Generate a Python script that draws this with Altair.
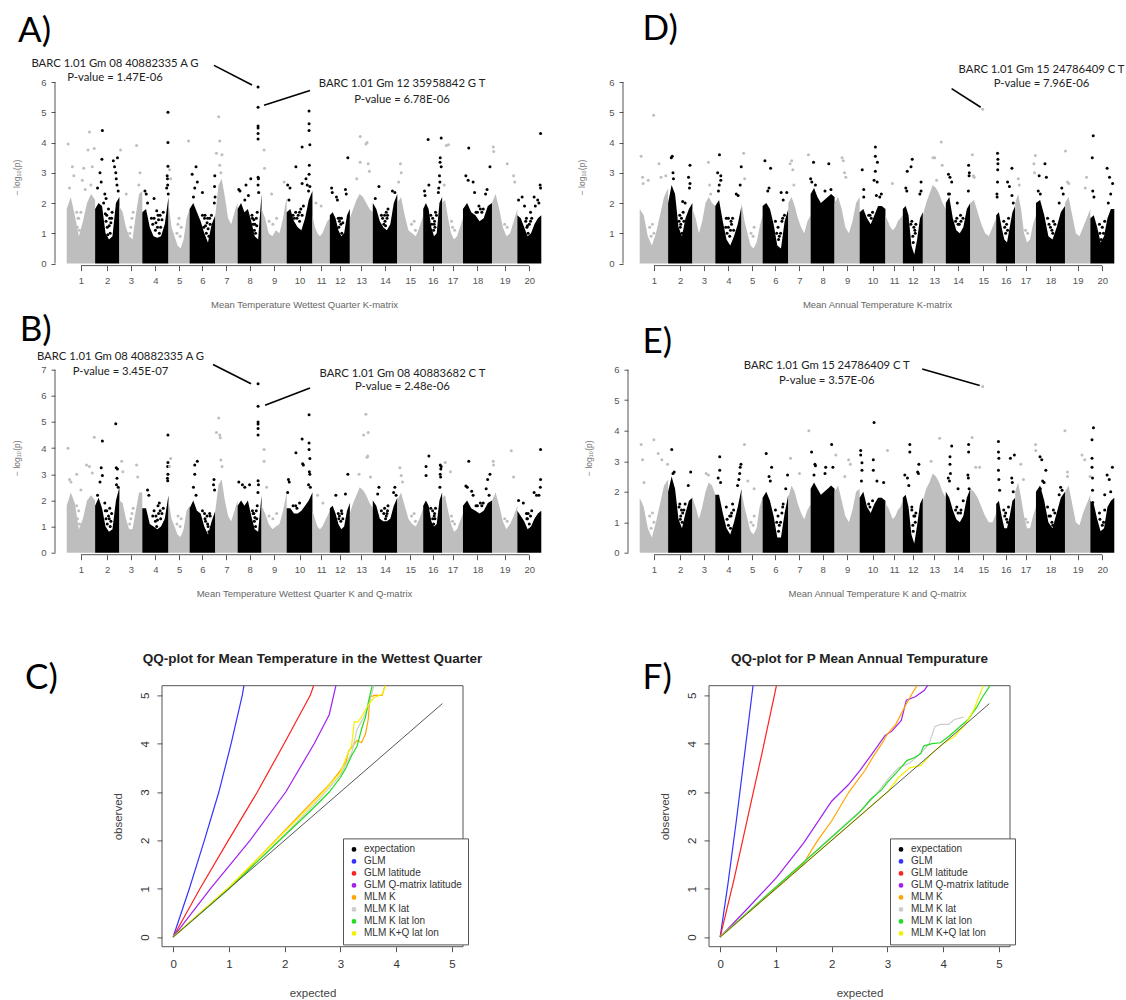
import json
import math

import altair as alt
import pandas as pd

# ---------------------------------------------------------------------------
# Genome layout: Glycine max chromosome lengths (Mb), Gm01..Gm20
# ---------------------------------------------------------------------------
CHROM_MB = [56.83, 48.58, 45.78, 52.39, 42.23, 51.42, 44.63, 47.84, 50.19, 51.57,
            34.77, 40.09, 45.87, 49.04, 51.76, 37.89, 41.64, 58.02, 50.75, 47.90]
CHROM_LABELS = [str(i) for i in range(1, 21)]

# Dense SNP band: upper edge of the bulk of -log10(p) values,
# eight evenly spaced samples along each chromosome (Gm01..Gm20)
A_BAND = [
    [1.8, 2.2, 1.6, 0.9, 1.4, 2.0, 2.3, 2.1], [1.8, 2.0, 1.9, 1.0, 0.8, 0.9, 2.0, 2.2],
    [1.9, 1.7, 1.2, 0.9, 0.8, 1.6, 2.3, 2.4], [1.7, 1.8, 1.2, 0.9, 0.85, 0.9, 1.3, 2.2],
    [2.0, 1.2, 0.9, 0.6, 0.5, 0.8, 1.5, 1.8], [1.8, 2.0, 1.7, 1.4, 1.0, 0.7, 1.3, 1.6],
    [1.6, 2.6, 2.8, 2.2, 1.5, 1.3, 1.7, 2.0], [1.8, 2.0, 1.7, 1.8, 1.4, 0.9, 0.8, 2.3],
    [1.8, 1.5, 1.0, 0.9, 1.1, 1.0, 1.5, 2.2], [1.7, 1.8, 1.4, 1.2, 1.1, 1.5, 2.1, 2.4],
    [1.6, 1.2, 1.0, 0.9, 1.0, 1.2, 1.4, 1.5], [1.6, 1.7, 1.5, 1.1, 0.9, 1.0, 1.6, 1.8],
    [1.5, 1.8, 2.1, 2.3, 2.2, 2.0, 1.8, 1.7], [2.0, 1.8, 1.4, 1.2, 1.1, 1.3, 2.0, 2.3],
    [2.0, 2.2, 1.6, 1.1, 1.0, 0.9, 1.2, 1.6], [1.8, 2.0, 1.8, 1.2, 0.9, 1.0, 2.0, 2.2],
    [2.0, 2.1, 1.5, 1.0, 0.8, 0.9, 1.2, 1.5], [1.8, 2.0, 1.7, 1.6, 1.4, 1.5, 1.9, 2.0],
    [2.0, 2.3, 1.8, 1.2, 0.9, 1.0, 1.4, 1.8], [1.6, 1.5, 1.2, 0.9, 1.0, 1.3, 1.5, 1.6],
]
B_BAND = [
    [1.8, 2.3, 1.9, 0.9, 1.3, 2.0, 2.2, 2.0], [1.8, 2.1, 1.7, 1.0, 0.8, 0.9, 2.0, 2.5],
    [2.0, 1.9, 1.3, 0.9, 0.9, 1.6, 2.3, 2.3], [1.7, 1.7, 1.1, 1.0, 0.9, 1.0, 1.3, 2.2],
    [2.0, 1.3, 1.0, 0.7, 0.6, 0.9, 1.6, 1.8], [1.7, 2.0, 1.6, 1.5, 1.0, 0.7, 1.2, 1.6],
    [1.6, 2.6, 2.8, 2.0, 1.4, 1.2, 1.6, 2.0], [1.8, 2.0, 1.8, 2.0, 1.4, 0.9, 0.8, 2.2],
    [1.8, 1.5, 1.1, 0.9, 1.0, 1.1, 1.6, 2.3], [1.7, 1.7, 1.5, 1.5, 1.6, 1.8, 2.0, 2.3],
    [1.6, 1.3, 1.0, 0.9, 1.0, 1.2, 1.4, 1.6], [1.7, 1.8, 1.5, 1.1, 0.9, 1.0, 1.6, 1.9],
    [1.5, 1.9, 2.2, 2.5, 2.4, 2.2, 1.9, 1.7], [2.0, 1.8, 1.3, 1.2, 1.2, 1.3, 1.8, 2.1],
    [2.0, 2.3, 1.8, 1.3, 1.1, 1.0, 1.3, 1.7], [1.8, 2.0, 1.8, 1.2, 1.0, 1.1, 2.0, 2.3],
    [2.1, 2.2, 1.6, 1.1, 0.8, 0.9, 1.2, 1.5], [1.8, 2.0, 1.7, 1.6, 1.5, 1.6, 1.9, 2.0],
    [2.0, 2.3, 1.8, 1.2, 0.9, 1.1, 1.4, 1.8], [1.6, 1.4, 1.2, 0.9, 1.0, 1.3, 1.5, 1.6],
]
D_BAND = [
    [1.8, 1.6, 0.9, 0.6, 1.0, 1.6, 2.2, 2.5], [2.0, 2.6, 2.3, 1.2, 0.9, 1.5, 1.8, 2.0],
    [1.8, 1.5, 1.0, 1.4, 2.0, 2.2, 2.0, 1.9], [1.9, 2.1, 1.4, 0.8, 0.6, 0.9, 1.3, 1.9],
    [2.0, 1.4, 1.0, 0.6, 0.5, 0.7, 1.2, 1.6], [1.9, 2.0, 1.8, 1.3, 0.6, 0.5, 1.4, 1.8],
    [2.0, 2.2, 1.9, 1.5, 1.2, 1.0, 1.4, 1.6], [2.3, 2.5, 2.2, 2.0, 2.1, 2.2, 2.3, 2.2],
    [2.0, 2.2, 1.8, 1.2, 1.0, 1.4, 2.0, 2.2], [1.7, 1.8, 1.5, 1.3, 1.6, 1.9, 1.9, 1.8],
    [1.6, 1.4, 1.2, 1.1, 1.2, 1.4, 1.5, 1.6], [1.8, 1.9, 1.6, 0.6, 0.3, 0.8, 1.5, 1.7],
    [1.6, 2.0, 2.3, 2.6, 2.5, 2.3, 2.0, 1.8], [2.0, 2.2, 1.5, 1.1, 1.0, 1.2, 1.8, 2.0],
    [2.0, 2.1, 1.7, 1.3, 1.0, 0.9, 1.2, 1.5], [1.6, 1.7, 1.2, 0.8, 0.7, 1.2, 1.7, 1.9],
    [2.0, 2.3, 1.8, 1.0, 0.7, 0.8, 1.3, 1.6], [2.0, 2.1, 1.6, 0.9, 0.8, 1.2, 1.7, 1.9],
    [2.0, 2.2, 1.6, 1.0, 0.9, 1.2, 1.5, 1.8], [1.5, 1.6, 1.2, 0.7, 0.9, 1.5, 1.8, 1.8],
]
E_BAND = [
    [1.8, 1.5, 0.8, 0.5, 1.0, 1.6, 2.2, 2.4], [2.0, 2.5, 2.1, 1.1, 0.8, 1.3, 1.7, 1.8],
    [1.8, 1.5, 1.1, 1.5, 2.0, 2.3, 2.2, 1.9], [1.9, 1.9, 1.3, 0.8, 0.6, 1.0, 1.5, 2.1],
    [2.0, 1.5, 1.1, 0.7, 0.6, 0.8, 1.5, 1.8], [1.8, 2.0, 1.7, 1.2, 0.5, 0.5, 1.3, 1.9],
    [1.8, 2.2, 2.0, 1.6, 1.3, 1.1, 1.4, 1.6], [2.1, 2.3, 2.1, 1.9, 2.0, 2.1, 2.2, 2.1],
    [2.0, 2.2, 1.7, 1.2, 1.0, 1.4, 2.0, 2.1], [1.8, 2.0, 1.5, 1.3, 1.6, 1.8, 1.8, 1.7],
    [1.6, 1.5, 1.3, 1.1, 1.2, 1.4, 1.5, 1.7], [1.8, 1.9, 1.5, 0.6, 0.3, 0.9, 1.6, 1.8],
    [1.7, 2.1, 2.3, 2.6, 2.5, 2.3, 2.0, 1.8], [2.0, 1.8, 1.4, 1.1, 1.0, 1.2, 1.8, 2.1],
    [2.1, 2.0, 1.8, 1.5, 1.2, 1.0, 1.0, 1.3], [1.6, 1.7, 1.2, 0.8, 0.8, 1.2, 1.7, 1.8],
    [2.0, 2.3, 1.8, 1.2, 0.8, 0.8, 1.2, 1.5], [2.0, 2.2, 1.7, 1.0, 0.8, 1.3, 1.8, 2.0],
    [2.0, 2.2, 1.6, 1.0, 0.9, 1.3, 1.6, 1.9], [1.7, 1.6, 1.1, 0.7, 0.8, 1.5, 1.7, 1.8],
]

# Individual SNPs outside the dense band: (chromosome, relative position, -log10 p)
A_SNPS = [
    (1, .05, 3.95), (1, .2, 3.2), (1, .25, 2.9), (1, .55, 2.75), (1, .6, 3.15), (1, .8, 4.35),
    (1, .75, 3.75), (1, .97, 3.8), (1, .9, 3.2), (1, .85, 2.6), (1, .1, 2.5), (1, .65, 2.45),
    (1, .4, 1.5), (1, .5, 1.7),
    (2, .3, 4.4), (2, .28, 3.45), (2, .2, 3.0), (2, .25, 2.7), (2, .1, 2.5), (2, .4, 2.3),
    (2, .45, 2.15), (2, .75, 3.4), (2, .8, 3.2), (2, .85, 3.0), (2, .92, 3.5), (2, .87, 2.8),
    (2, .9, 2.6), (2, .95, 2.4), (2, .55, 1.8), (2, .6, 1.5), (2, .35, 2.0),
    (2, .45, 1.4), (2, .5, 1.2), (2, .65, 1.35), (2, .52, 0.95), (2, .7, 1.7),
    (3, .05, 3.75), (3, .75, 3.9), (3, .9, 3.0), (3, .85, 2.6), (3, .3, 2.3),
    (4, .1, 2.4), (4, .15, 2.3), (4, .2, 2.0), (4, .45, 2.15), (4, .55, 1.75), (4, .6, 1.6),
    (4, .95, 2.9), (4, .97, 2.6), (4, .98, 5.0), (4, .98, 4.0), (4, .98, 3.22), (4, .96, 2.8),
    (4, .99, 2.3), (4, .93, 2.5),
    (4, .35, 1.5), (4, .4, 1.3), (4, .5, 1.1), (4, .7, 1.2), (4, .75, 1.45), (4, .65, 1.0),
    (5, .05, 3.1), (5, .1, 2.8), (5, .95, 4.05), (5, .5, 1.5),
    (6, .1, 2.95), (6, .25, 3.2), (6, .3, 2.7), (6, .5, 2.35), (6, .2, 2.5), (6, .15, 2.2),
    (6, .6, 1.6), (6, .7, 1.5), (6, .85, 1.6), (6, .98, 2.9), (6, .97, 2.55), (6, .99, 2.2),
    (6, .96, 2.0), (6, .55, 1.2), (6, .65, 1.0), (6, .75, 0.9), (6, .8, 1.3),
    (7, .15, 4.85), (7, .2, 4.05), (7, .05, 3.65), (7, .3, 3.6), (7, .2, 3.25), (7, .25, 3.0),
    (8, .05, 2.45), (8, .1, 2.4), (8, .35, 2.6), (8, .55, 2.8), (8, .45, 2.25), (8, .3, 2.1),
    (8, .855, 4.55), (8, .855, 4.48), (8, .855, 4.3), (8, .855, 4.12), (8, .855, 2.85),
    (8, .87, 2.8), (8, .855, 2.6), (8, .88, 2.35),
    (8, .6, 1.6), (8, .65, 1.3), (8, .7, 1.1), (8, .75, 1.0), (8, .8, 1.25),
    (9, .1, 3.75), (9, .12, 3.15), (9, .4, 2.3), (9, .9, 2.7),
    (10, .04, 2.6), (10, .13, 2.5), (10, .09, 2.1), (10, .36, 3.2), (10, .6, 3.85), (10, .6, 2.65),
    (10, .87, 5.04), (10, .87, 4.62), (10, .87, 4.4), (10, .9, 3.93), (10, .88, 3.25),
    (10, .87, 2.95), (10, .75, 2.8), (10, .8, 2.6), (10, .9, 2.55), (10, .85, 2.4),
    (10, .3, 1.5), (10, .45, 1.6), (10, .5, 1.4), (10, .55, 1.8), (10, .65, 1.9),
    (11, .2, 2.0), (11, .5, 1.9),
    (12, .09, 2.5), (12, .12, 2.35), (12, .33, 2.2), (12, .38, 2.1), (12, .9, 3.5), (12, .78, 2.45),
    (12, .82, 2.3), (12, .45, 1.2), (12, .55, 1.3), (12, .6, 1.0), (12, .5, 1.5),
    (13, .45, 4.2), (13, .7, 3.95), (13, .75, 4.0), (13, .45, 3.35), (13, .8, 3.3), (13, .85, 3.05),
    (13, .3, 2.8),
    (14, .25, 2.55), (14, .1, 2.15), (14, .8, 2.4), (14, .9, 2.35), (14, .6, 1.6),
    (14, .4, 1.5), (14, .5, 1.4), (14, .55, 1.7), (14, .45, 1.3),
    (15, .12, 3.3), (15, .15, 3.0), (15, .05, 2.7),
    (16, .26, 4.1), (16, .3, 2.6), (16, .07, 2.4), (16, .1, 2.25), (16, .95, 4.15), (16, .9, 3.5),
    (16, .89, 3.35), (16, .95, 3.2), (16, .86, 2.9), (16, .88, 2.7), (16, .82, 2.5), (16, .8, 2.35),
    (16, .45, 1.3), (16, .55, 1.1), (16, .6, 1.4), (16, .7, 1.6),
    (17, .2, 3.9), (17, .3, 3.93), (17, .1, 2.6),
    (18, .1, 2.9), (18, .18, 2.75), (18, .2, 3.82), (18, .35, 2.7), (18, .4, 2.35), (18, .83, 2.45),
    (18, .93, 3.2), (18, .78, 2.3), (18, .5, 1.7), (18, .6, 1.8), (18, .55, 1.9),
    (19, .05, 3.85), (19, .07, 3.7), (19, .6, 3.3), (19, .85, 2.9), (19, .9, 2.7),
    (20, .05, 2.1), (20, .2, 2.2), (20, .3, 1.9), (20, .55, 1.7), (20, .7, 2.2), (20, .75, 1.9),
    (20, .85, 2.1), (20, .97, 4.3), (20, .95, 2.6), (20, .97, 2.5), (20, .9, 2.0),
    (20, .4, 1.2), (20, .45, 1.0), (20, .5, 1.3), (20, .35, 1.4),
]
# SNPs scattered through the thinner middle stretch of each chromosome
A_SPARSE = [
    (1, .38, 1.2), (1, .42, 1.5), (1, .45, 1.1), (1, .35, 1.7),
    (2, .48, 1.6), (2, .58, 1.25), (2, .62, 1.0), (2, .42, 1.65), (2, .68, 1.5),
    (3, .5, 1.2), (3, .55, 1.5), (3, .45, 1.0), (3, .6, 1.7),
    (4, .45, 1.5), (4, .52, 1.35), (4, .58, 1.2), (4, .62, 1.45), (4, .68, 1.6), (4, .8, 1.7),
    (5, .4, 1.0), (5, .55, 0.9), (5, .6, 1.2), (5, .45, 1.3),
    (6, .58, 1.5), (6, .62, 1.25), (6, .68, 1.35), (6, .72, 1.15), (6, .78, 1.5), (6, .5, 1.6),
    (8, .62, 1.5), (8, .68, 1.45), (8, .72, 1.3), (8, .78, 1.5), (8, .82, 1.7),
    (9, .3, 1.4), (9, .45, 1.3), (9, .6, 1.5),
    (10, .35, 1.7), (10, .4, 1.5), (10, .5, 1.7), (10, .6, 1.6), (10, .25, 1.6),
    (12, .42, 1.5), (12, .48, 1.4), (12, .58, 1.5), (12, .65, 1.35),
    (14, .35, 1.6), (14, .48, 1.6), (14, .52, 1.25), (14, .58, 1.5), (14, .62, 1.8),
    (15, .55, 1.3), (15, .65, 1.4), (15, .7, 1.1),
    (16, .5, 1.5), (16, .58, 1.3), (16, .62, 1.2), (16, .65, 1.7), (16, .4, 1.6),
    (17, .5, 1.2), (17, .6, 1.1), (17, .45, 1.4),
    (18, .45, 1.7), (18, .65, 1.7), (18, .7, 1.8),
    (19, .5, 1.3), (19, .6, 1.2),
    (20, .38, 1.5), (20, .55, 1.4), (20, .6, 1.5), (20, .42, 1.25),
]
B_SNPS = [
    (1, .05, 4.0), (1, .1, 2.8), (1, .15, 2.7), (1, .7, 3.35), (1, .8, 3.3), (1, .9, 3.05),
    (1, .5, 2.4), (1, .97, 4.42), (1, .35, 3.0),
    (2, .3, 4.27), (2, .25, 3.25), (2, .3, 2.95), (2, .2, 2.7), (2, .1, 2.2), (2, .85, 4.93),
    (2, .87, 3.25), (2, .92, 3.2), (2, .9, 2.85), (2, .88, 2.6), (2, .95, 2.5), (2, .4, 1.9),
    (2, .6, 1.7), (2, .45, 1.3), (2, .5, 1.1), (2, .55, 1.4), (2, .65, 1.2),
    (3, .75, 3.35), (3, .8, 2.9), (3, .1, 3.5), (3, .15, 3.1),
    (4, .2, 2.4), (4, .25, 2.2), (4, .65, 1.9), (4, .6, 1.8), (4, .98, 4.5), (4, .98, 3.45),
    (4, .97, 3.3), (4, .98, 3.0), (4, .96, 2.85), (4, .97, 2.75),
    (4, .4, 1.4), (4, .5, 1.2), (4, .55, 1.0), (4, .7, 1.3), (4, .75, 1.5),
    (5, .1, 3.6), (5, .05, 3.3),
    (6, .3, 3.5), (6, .2, 3.35), (6, .2, 3.0), (6, .15, 2.5), (6, .25, 2.2), (6, .95, 2.8),
    (6, .93, 2.6), (6, .97, 2.4), (6, .6, 1.3), (6, .7, 1.1), (6, .75, 0.8), (6, .8, 1.4),
    (7, .15, 5.15), (7, .05, 4.6), (7, .2, 4.5), (7, .22, 4.4), (7, .25, 3.55), (7, .3, 3.3),
    (8, .05, 2.7), (8, .2, 2.6), (8, .3, 2.5), (8, .5, 2.6), (8, .855, 5.0), (8, .855, 4.92),
    (8, .855, 4.75), (8, .855, 4.5), (8, .855, 2.75), (8, .87, 2.6), (8, .85, 2.3),
    (8, .65, 1.5), (8, .7, 1.2), (8, .75, 1.0), (8, .8, 1.3),
    (9, .1, 3.95), (9, .1, 3.5), (9, .2, 2.5),
    (10, .07, 2.8), (10, .1, 2.7), (10, .04, 2.3), (10, .36, 3.82), (10, .6, 4.35), (10, .62, 3.4),
    (10, .65, 3.35), (10, .87, 5.28), (10, .87, 4.2), (10, .87, 3.95), (10, .9, 3.6),
    (10, .88, 3.1), (10, .9, 3.0), (10, .85, 2.6), (10, .92, 2.5),
    (11, .3, 2.2), (11, .6, 1.9),
    (12, .3, 2.2), (12, .9, 3.0), (12, .78, 2.25), (12, .45, 1.3), (12, .55, 1.2), (12, .6, 1.5),
    (13, .7, 5.3), (13, .6, 4.5), (13, .8, 4.6), (13, .75, 3.65), (13, .78, 3.7), (13, .4, 3.0),
    (13, .9, 2.9),
    (14, .25, 2.5), (14, .2, 2.25), (14, .85, 2.3), (14, .9, 2.5), (14, .95, 2.2),
    (14, .45, 1.5), (14, .55, 1.4), (14, .6, 1.6),
    (15, .1, 3.25), (15, .15, 2.95), (15, .2, 2.7),
    (16, .3, 3.7), (16, .15, 3.3), (16, .15, 2.95), (16, .9, 3.35), (16, .95, 3.3), (16, .93, 3.2),
    (16, .9, 3.0), (16, .92, 2.9), (16, .88, 2.5), (16, .5, 1.3), (16, .6, 1.5), (16, .55, 1.1),
    (17, .15, 3.45), (17, .4, 3.1),
    (18, .2, 3.5), (18, .1, 2.55), (18, .15, 2.5), (18, .3, 2.35), (18, .35, 2.2), (18, .93, 3.0),
    (18, .85, 2.8), (18, .8, 2.45), (18, .9, 2.2), (18, .5, 1.8), (18, .6, 1.9),
    (19, .05, 3.5), (19, .06, 3.35), (19, .76, 3.9), (19, .85, 2.9),
    (20, .05, 2.0), (20, .25, 1.9), (20, .7, 2.3), (20, .8, 2.2), (20, .97, 3.95), (20, .97, 2.8),
    (20, .96, 2.5), (20, .9, 2.2), (20, .4, 1.3), (20, .5, 1.1), (20, .45, 1.5),
]
B_SPARSE = [
    (1, .38, 1.3), (1, .42, 1.6), (1, .45, 1.1), (1, .35, 1.8),
    (2, .48, 1.6), (2, .58, 1.3), (2, .62, 1.0), (2, .42, 1.6), (2, .68, 1.5),
    (3, .5, 1.3), (3, .55, 1.5), (3, .45, 1.1), (3, .6, 1.7),
    (4, .45, 1.6), (4, .52, 1.4), (4, .58, 1.25), (4, .62, 1.5), (4, .68, 1.6), (4, .8, 1.7),
    (5, .4, 1.1), (5, .55, 1.0), (5, .6, 1.3), (5, .45, 1.4),
    (6, .58, 1.5), (6, .62, 1.2), (6, .68, 1.4), (6, .72, 1.0), (6, .78, 1.5), (6, .5, 1.6),
    (8, .62, 1.6), (8, .68, 1.5), (8, .72, 1.35), (8, .78, 1.6), (8, .82, 1.8),
    (9, .3, 1.4), (9, .45, 1.3), (9, .6, 1.5),
    (10, .35, 1.8), (10, .4, 1.7), (10, .5, 1.9), (10, .25, 1.8),
    (12, .42, 1.5), (12, .48, 1.4), (12, .58, 1.6), (12, .65, 1.3),
    (14, .35, 1.6), (14, .48, 1.7), (14, .52, 1.3), (14, .58, 1.5), (14, .62, 1.8),
    (15, .55, 1.4), (15, .65, 1.5), (15, .7, 1.2),
    (16, .5, 1.6), (16, .58, 1.4), (16, .62, 1.3), (16, .65, 1.7), (16, .4, 1.7),
    (17, .5, 1.2), (17, .6, 1.1), (17, .45, 1.4),
    (18, .45, 1.8), (18, .65, 1.8), (18, .7, 1.9),
    (19, .5, 1.3), (19, .6, 1.2),
    (20, .38, 1.5), (20, .55, 1.4), (20, .6, 1.6), (20, .42, 1.3),
]
D_SNPS = [
    (1, .05, 3.55), (1, .1, 2.85), (1, .12, 2.65), (1, .49, 4.9), (1, .68, 3.3), (1, .3, 2.75),
    (1, .75, 2.85), (1, .92, 2.9),
    (2, .17, 3.55), (2, .13, 3.5), (2, .2, 3.0), (2, .22, 2.8), (2, .9, 3.25), (2, .84, 2.85),
    (2, .9, 2.65), (2, .88, 2.5), (2, .6, 2.05), (2, .7, 2.0),
    (2, .45, 1.4), (2, .5, 1.2), (2, .55, 1.5), (2, .62, 1.7),
    (3, .7, 3.35), (3, .75, 2.6), (3, .8, 2.3),
    (4, .16, 3.6), (4, .09, 3.0), (4, .21, 2.9), (4, .21, 2.75), (4, .15, 2.6), (4, .12, 2.4),
    (4, .99, 3.2), (4, .95, 2.6), (4, .8, 2.3), (4, .87, 2.25), (4, .5, 1.5), (4, .6, 1.4),
    (4, .4, 1.2), (4, .55, 0.9), (4, .7, 1.1), (4, .45, 1.0),
    (5, .1, 3.65), (5, .15, 2.8),
    (6, .09, 3.4), (6, .31, 3.15), (6, .25, 2.5), (6, .2, 2.4), (6, .72, 2.35), (6, .94, 2.35),
    (6, .8, 2.1), (6, .55, 1.0), (6, .65, 0.9), (6, .75, 1.4), (6, .85, 1.6),
    (7, .08, 3.3), (7, .15, 3.4), (7, .2, 3.1), (7, .25, 2.6), (7, .9, 3.6),
    (8, .12, 3.35), (8, .0, 2.8), (8, .05, 2.7), (8, .2, 2.6), (8, .76, 3.3), (8, .6, 2.4),
    (8, .85, 2.45),
    (9, .3, 3.5), (9, .35, 3.4), (9, .4, 3.0), (9, .45, 2.85),
    (10, .1, 3.1), (10, .16, 2.45), (10, .16, 2.2), (10, .61, 3.85), (10, .61, 3.55),
    (10, .69, 3.35), (10, .61, 3.05), (10, .56, 2.75), (10, .68, 2.7), (10, .65, 2.25),
    (10, .84, 2.3), (10, .78, 2.2), (10, .4, 1.6), (10, .45, 1.5),
    (11, .4, 2.65),
    (12, .47, 3.45), (12, .41, 3.2), (12, .22, 3.05), (12, .15, 2.5), (12, .2, 2.4), (12, .91, 2.7),
    (12, .91, 2.4), (12, .85, 2.3), (12, .5, 0.9), (12, .6, 1.1), (12, .4, 1.3),
    (13, .8, 4.02), (13, .44, 3.5), (13, .52, 3.5), (13, .84, 3.25), (13, .6, 2.75),
    (14, .11, 2.95), (14, .17, 2.85), (14, .24, 2.7), (14, .15, 2.3), (14, .11, 2.3), (14, .47, 2.0),
    (14, .6, 1.6), (14, .93, 3.25), (14, .96, 3.0), (14, .95, 2.9), (14, .92, 2.4),
    (14, .4, 1.4), (14, .55, 1.3), (14, .7, 1.5),
    (15, .08, 3.6), (15, .12, 2.9), (15, .15, 2.85),
    (16, .07, 3.65), (16, .09, 3.45), (16, .09, 3.3), (16, .08, 3.1), (16, .07, 2.7), (16, .04, 2.3),
    (16, .05, 2.2), (16, .83, 3.15), (16, .6, 2.7), (16, .7, 2.55), (16, .83, 2.25), (16, .9, 2.0),
    (16, .45, 1.2), (16, .5, 1.0),
    (17, .15, 2.8), (17, .2, 2.6), (17, .97, 3.57), (17, .9, 3.3), (17, .93, 3.0),
    (18, .31, 3.3), (18, .11, 2.9), (18, .36, 2.85), (18, .08, 2.4), (18, .15, 2.3), (18, .89, 2.5),
    (18, .94, 2.3), (18, .8, 2.0), (18, .45, 1.3), (18, .55, 1.1), (18, .6, 1.4),
    (19, .02, 3.72), (19, .1, 2.7), (19, .15, 2.65), (19, .8, 2.5), (19, .85, 2.85),
    (20, .12, 4.22), (20, .08, 3.5), (20, .1, 2.4), (20, .15, 2.2), (20, .7, 3.15), (20, .8, 2.85),
    (20, .93, 2.65), (20, .85, 2.3), (20, .75, 2.0), (20, .4, 1.0), (20, .5, 1.2), (20, .45, 0.8),
]
D_SPARSE = [
    (1, .35, 1.2), (1, .4, 0.9), (1, .45, 1.3), (1, .5, 1.0),
    (2, .48, 1.6), (2, .52, 1.3), (2, .58, 1.0), (2, .65, 1.4),
    (4, .42, 1.5), (4, .5, 1.2), (4, .58, 1.1), (4, .62, 1.3), (4, .66, 1.5),
    (5, .45, 1.0), (5, .55, 0.9), (5, .6, 1.2),
    (6, .5, 1.4), (6, .6, 1.2), (6, .62, 0.8), (6, .7, 1.0), (6, .78, 1.5),
    (10, .35, 1.6), (10, .5, 1.7),
    (12, .45, 1.4), (12, .52, 0.7), (12, .55, 1.2), (12, .62, 1.0), (12, .65, 1.3),
    (14, .45, 1.5), (14, .5, 1.3), (14, .62, 1.4),
    (16, .4, 1.4), (16, .55, 1.3), (16, .6, 1.1), (16, .65, 1.5),
    (17, .5, 1.1), (17, .6, 1.0),
    (18, .4, 1.5), (18, .5, 1.2), (18, .58, 1.0), (18, .65, 1.3),
    (20, .38, 1.3), (20, .55, 1.0), (20, .6, 1.4),
]
E_SNPS = [
    (1, .05, 3.55), (1, .1, 3.05), (1, .5, 3.7), (1, .65, 3.25), (1, .78, 3.05), (1, .15, 2.3),
    (1, .98, 2.9),
    (2, .15, 3.38), (2, .25, 2.65), (2, .2, 2.6), (2, .93, 2.65), (2, .83, 2.2), (2, .6, 1.3),
    (2, .45, 1.5), (2, .5, 1.1), (2, .55, 1.4), (2, .7, 1.6),
    (3, .6, 2.6), (3, .7, 2.55),
    (4, .17, 3.15), (4, .17, 2.7), (4, .11, 2.45), (4, .2, 2.3), (4, .98, 2.9), (4, .95, 2.8),
    (4, .93, 2.6), (4, .9, 2.4), (4, .85, 2.2), (4, .45, 1.1), (4, .5, 0.9), (4, .6, 1.2),
    (4, .7, 1.4),
    (5, .14, 3.55), (5, .3, 2.35), (5, .6, 2.1),
    (6, .14, 3.25), (6, .35, 2.8), (6, .25, 2.5), (6, .3, 2.35), (6, .97, 2.55), (6, .9, 2.1),
    (6, .55, 1.0), (6, .65, 0.9), (6, .75, 1.3), (6, .8, 1.6),
    (7, .1, 3.1), (7, .92, 4.0), (7, .5, 2.6),
    (8, .04, 3.3), (8, .18, 2.9), (8, .2, 2.85), (8, .14, 2.55), (8, .63, 2.8), (8, .6, 2.6),
    (8, .88, 3.55), (8, .93, 2.8),
    (9, .05, 3.2), (9, .56, 3.05), (9, .63, 2.9), (9, .41, 2.5),
    (10, .04, 3.35), (10, .04, 3.2), (10, .09, 2.95), (10, .09, 2.7), (10, .07, 2.35),
    (10, .56, 4.27), (10, .53, 3.05), (10, .53, 2.7), (10, .67, 2.35), (10, .93, 2.3),
    (10, .4, 1.5), (10, .45, 1.2),
    (11, .12, 3.35),
    (12, .35, 3.55), (12, .35, 3.3), (12, .1, 2.55), (12, .23, 2.45), (12, .3, 2.2), (12, .8, 2.9),
    (12, .74, 2.65), (12, .78, 2.6), (12, .5, 0.9), (12, .6, 1.2), (12, .45, 1.4),
    (13, .73, 3.75), (13, .36, 3.0),
    (14, .24, 3.5), (14, .17, 3.15), (14, .17, 2.9), (14, .19, 2.6), (14, .1, 2.45), (14, .15, 2.35),
    (14, .5, 2.1), (14, .71, 1.7), (14, .93, 3.55), (14, .93, 3.3), (14, .9, 2.55), (14, .92, 2.45),
    (14, .95, 2.1), (14, .4, 1.4), (14, .6, 1.3),
    (15, .07, 3.78), (15, .21, 2.8), (15, .36, 2.8),
    (16, .12, 3.65), (16, .12, 3.3), (16, .14, 3.1), (16, .12, 2.7), (16, .14, 2.4), (16, .18, 2.05),
    (16, .75, 3.1), (16, .96, 3.2), (16, .82, 2.45), (16, .85, 2.3), (16, .9, 2.0),
    (16, .45, 1.2), (16, .55, 1.1),
    (17, .27, 2.9), (17, .4, 2.4), (17, .98, 3.55), (17, .99, 3.35),
    (18, .14, 3.15), (18, .2, 3.05), (18, .34, 2.7), (18, .23, 2.35), (18, .28, 2.3), (18, .15, 2.1),
    (18, .85, 2.15), (18, .9, 2.05), (18, .8, 1.9), (18, .45, 1.2), (18, .55, 1.0), (18, .6, 1.4),
    (19, .0, 4.0), (19, .1, 2.65), (19, .1, 2.5), (19, .67, 3.2), (19, .78, 3.05), (19, .99, 2.5),
    (20, .13, 4.1), (20, .07, 3.7), (20, .07, 3.1), (20, .07, 2.8), (20, .09, 2.45), (20, .09, 2.05),
    (20, .1, 1.65), (20, .7, 2.55), (20, .79, 2.4), (20, .92, 2.8), (20, .85, 2.0), (20, .6, 1.9),
    (20, .4, 1.1), (20, .5, 0.9),
]
E_SPARSE = [
    (1, .35, 1.2), (1, .4, 0.8), (1, .45, 1.3), (1, .5, 1.0),
    (2, .48, 1.6), (2, .52, 1.2), (2, .58, 1.0), (2, .65, 1.4),
    (4, .42, 1.5), (4, .55, 1.2), (4, .58, 0.8), (4, .62, 1.3), (4, .66, 1.6),
    (5, .45, 1.0), (5, .55, 0.9), (5, .6, 1.2),
    (6, .5, 1.4), (6, .6, 1.2), (6, .62, 0.7), (6, .7, 1.0), (6, .78, 1.5),
    (10, .35, 1.6), (10, .5, 1.7),
    (12, .45, 1.5), (12, .52, 0.7), (12, .55, 1.2), (12, .62, 1.0), (12, .65, 1.3),
    (14, .45, 1.5), (14, .5, 1.3), (14, .62, 1.4),
    (16, .4, 1.4), (16, .5, 1.3), (16, .6, 1.0), (16, .65, 1.5),
    (17, .5, 1.1), (17, .6, 1.0),
    (18, .4, 1.5), (18, .5, 1.2), (18, .58, 0.9), (18, .65, 1.3),
    (20, .38, 1.3), (20, .55, 1.0), (20, .6, 1.4),
]

# Labelled top hits: marker, P-value, where the SNP sits, and where its label goes
# (label centre in genome Mb / -log10 p; leader line starts at lx, ly)
A_NOTES = [
    dict(snp="BARC 1.01 Gm 08 40882335 A G", p="1.47E-06", chrom=8, bp=40882335,
         tx=96.6, ty=(6.58, 6.14), lx=294.6, ly=6.55, dx=-6, dy=-2),
    dict(snp="BARC 1.01 Gm 12 35958842 G T", p="6.78E-06", chrom=8, bp=40883682,
         tx=670.6, ty=(5.92, 5.42), lx=486.6, ly=5.72, dx=6, dy=-2),
]
B_NOTES = [
    dict(snp="BARC 1.01 Gm 08 40882335 A G", p="3.45E-07", chrom=8, bp=40882335,
         tx=107.6, ty=(7.47, 6.91), lx=292.6, ly=7.2, dx=-7, dy=0),
    dict(snp="BARC 1.01 Gm 08 40883682 C T", p="2.48e-06", chrom=8, bp=40883682,
         tx=671.4, ty=(6.83, 6.32), lx=486.6, ly=6.3, dx=7, dy=-1),
]
D_NOTES = [
    dict(snp="BARC 1.01 Gm 15 24786409 C T", p="7.96E-06", chrom=15, bp=24786409,
         tx=803.6, ty=(6.39, 5.92), lx=623.8, ly=5.78, dx=-2, dy=-2),
]
E_NOTES = [
    dict(snp="BARC 1.01 Gm 15 24786409 C T", p="3.57E-06", chrom=15, bp=24786409,
         tx=374.0, ty=(6.11, 5.62), lx=565.0, ly=6.02, dx=-3, dy=-1),
]

# QQ-plot curves: (expected, observed) -log10 p
SERIES = ["expectation", "GLM", "GLM latitude", "GLM Q-matrix latitude", "MLM K",
          "MLM K lat", "MLM K lat lon", "MLM K+Q lat lon"]
SERIES_COLORS = ["#000000", "#3333ff", "#ff2020", "#a020f0", "#ffa500",
                 "#cccccc", "#22dd22", "#f2f200"]

C_EXPECTATION = [(0, 0), (4.83, 4.83)]
C_GLM = [(0, 0), (0.29, 1.0), (0.56, 2.0), (0.82, 3.0), (1.04, 4.0), (1.24, 5.0), (1.27, 5.2)]
C_GLM_LAT = [(0, 0), (0.48, 1.0), (0.99, 2.0), (1.51, 3.0), (1.99, 4.0), (2.46, 5.0), (2.52, 5.2)]
C_GLM_Q = [(0, 0), (0.67, 1.0), (1.38, 2.0), (2.02, 3.0), (2.53, 4.0), (2.8, 4.6), (2.92, 5.2)]
C_MLM_K = [(0, 0), (1.0, 1.02), (1.5, 1.6), (2.0, 2.2), (2.5, 2.8), (2.8, 3.15), (3.0, 3.45),
           (3.1, 3.62), (3.15, 3.85), (3.22, 3.95), (3.3, 4.07), (3.38, 4.02), (3.45, 4.2),
           (3.5, 4.5), (3.53, 4.97), (3.62, 5.0), (3.75, 5.0), (3.8, 5.2)]
C_MLM_K_LAT = [(0, 0), (1.0, 1.0), (1.5, 1.55), (2.0, 2.12), (2.5, 2.7), (3.0, 3.35), (3.2, 3.8),
               (3.3, 4.3), (3.42, 4.55), (3.5, 4.75), (3.6, 5.2)]
C_MLM_K_LAT_LON = [(0, 0), (1.0, 1.0), (1.5, 1.55), (2.0, 2.1), (2.5, 2.65), (2.8, 3.0), (3.0, 3.3),
                   (3.1, 3.5), (3.2, 3.75), (3.3, 3.95), (3.38, 4.3), (3.45, 4.55), (3.5, 4.85),
                   (3.57, 5.2)]
C_MLM_KQ = [(0, 0), (1.0, 1.03), (1.5, 1.6), (2.0, 2.18), (2.5, 2.75), (3.0, 3.4), (3.1, 3.7),
            (3.2, 3.95), (3.25, 4.45), (3.32, 4.45), (3.4, 4.6), (3.5, 4.8), (3.6, 4.95),
            (3.75, 5.02), (3.81, 5.2)]

F_EXPECTATION = [(0, 0), (4.83, 4.83)]
F_GLM = [(0, 0), (0.14, 1.1), (0.29, 2.4), (0.44, 3.8), (0.59, 5.2)]
F_GLM_LAT = [(0, 0), (0.25, 1.2), (0.5, 2.5), (0.75, 3.8), (1.01, 5.2)]
F_GLM_Q = [(0, 0), (0.5, 0.6), (1.01, 1.23), (1.5, 1.95), (2.0, 2.81), (2.3, 3.15), (2.51, 3.45),
           (2.7, 3.75), (2.96, 4.17), (3.08, 4.26), (3.25, 4.48), (3.34, 4.9), (3.5, 4.97),
           (3.66, 5.1), (3.72, 5.2)]
F_MLM_K = [(0, 0), (1.2, 1.2), (1.48, 1.5), (1.75, 2.0), (2.0, 2.4), (2.31, 3.0), (2.6, 3.45),
           (2.76, 3.76), (2.9, 4.0), (3.0, 4.2), (3.15, 4.4), (3.33, 4.8), (3.45, 5.05), (3.53, 5.2)]
F_MLM_K_LAT = [(0, 0), (2.6, 2.7), (2.8, 2.95), (3.0, 3.25), (3.2, 3.5), (3.4, 3.6), (3.6, 3.8),
               (3.75, 4.0), (3.85, 4.35), (3.95, 4.4), (4.1, 4.4), (4.2, 4.5), (4.37, 4.55)]
F_MLM_K_LAT_LON = [(0, 0), (2.5, 2.58), (2.7, 2.85), (2.9, 3.05), (3.0, 3.2), (3.2, 3.45),
                   (3.35, 3.65), (3.5, 3.72), (3.6, 3.8), (3.65, 3.95), (3.8, 4.0), (3.95, 4.02),
                   (4.1, 4.15), (4.3, 4.35), (4.45, 4.5), (4.6, 4.75), (4.7, 4.95), (4.84, 5.2)]
F_MLM_KQ = [(0, 0), (3.0, 3.0), (3.2, 3.3), (3.4, 3.5), (3.6, 3.55), (3.8, 3.8), (4.0, 4.0),
            (4.2, 4.15), (4.4, 4.4), (4.55, 4.7), (4.65, 5.0), (4.72, 5.2)]

# ---------------------------------------------------------------------------
# Styling and layout constants
# ---------------------------------------------------------------------------
AXIS_FONT = "Liberation Sans"
NOTE_FONT = "Lato"
GREY = "#bebebe"
AXIS_GREY = "#555555"
PANEL_W = 498
ROW1_H = 181.6
ROW2_H = 183
ROW3_H = 288.3
X_PAD = 23.4                     # Mb of empty space before Gm01
PX_PER_MB = 0.5
QQ_LO, QQ_HI = -0.2, 5.2          # QQ box limits
QQ_BOX_W, QQ_BOX_H = 301, 261
QQ_TICKS = [0, 1, 2, 3, 4, 5]

STARTS = []
_acc = 0.0
for _L in CHROM_MB:
    STARTS.append(_acc)
    _acc += _L
GENOME_MB = _acc
MIDS = [round(s + L / 2, 2) for s, L in zip(STARTS, CHROM_MB)]
X_DOMAIN = [-X_PAD, -X_PAD + PANEL_W / PX_PER_MB]

CHROM_LABEL_EXPR = "%s[indexof(%s, round(datum.value * 100) / 100)]" % (
    json.dumps(CHROM_LABELS), json.dumps(MIDS))


def parity(c):
    return "odd" if c % 2 else "even"


def genome_pos(c, frac):
    return STARTS[c - 1] + frac * CHROM_MB[c - 1]


def panel_label(text, x, y):
    return alt.Chart(pd.DataFrame({"k": [0]})).mark_text(
        text=text, font=NOTE_FONT, fontSize=35, align="left", baseline="alphabetic",
        color="#000000").encode(x=alt.value(x), y=alt.value(y))


def manhattan(band, snps, notes, ymax, height, xtitle, label, label_xy,
              yaxis_off=0, ytitle_xy=(-39, 95), anchor=False):
    band_rows = []
    for c, hs in enumerate(band, start=1):
        for i, h in enumerate(hs):
            band_rows.append({"chrom": c, "pos": genome_pos(c, i / (len(hs) - 1)),
                              "logp": h, "parity": parity(c)})
    dot_rows = [{"chrom": c, "pos": genome_pos(c, f), "logp": v, "parity": parity(c)}
                for c, f, v in snps]
    hits = []
    for nt in notes:
        hp = STARTS[nt["chrom"] - 1] + nt["bp"] / 1e6
        hv = -math.log10(float(nt["p"]))
        hits.append((hp, hv))
        dot_rows.append({"chrom": nt["chrom"], "pos": hp, "logp": hv, "parity": parity(nt["chrom"])})

    xs = alt.Scale(domain=X_DOMAIN, nice=False, zero=False)
    ys = alt.Scale(domain=[0, ymax], nice=False, zero=False)
    color = alt.Color("parity:N", scale=alt.Scale(domain=["odd", "even"], range=[GREY, "#000000"]),
                      legend=None)
    x_axis = alt.Axis(values=MIDS, tickCount=40, labelExpr=CHROM_LABEL_EXPR, domain=False,
                      grid=False, offset=2, tickSize=5, tickColor=AXIS_GREY, labelColor=AXIS_GREY,
                      labelFont=AXIS_FONT, labelFontSize=9.5, labelPadding=5,
                      labelFlush=False, labelOverlap=False, labelBound=False,
                      title=xtitle, titleFont=AXIS_FONT, titleFontSize=9.5,
                      titleFontWeight="normal", titleColor="#666666",
                      titleX=PANEL_W / 2, titleY=38.7, titleBaseline="middle", titleAlign="center")
    y_axis = alt.Axis(values=list(range(0, ymax + 1)), tickCount=20, format="d", domain=False,
                      grid=False, offset=yaxis_off, tickSize=4, tickColor=AXIS_GREY,
                      labelColor=AXIS_GREY, labelFont=AXIS_FONT, labelFontSize=9.5,
                      labelPadding=5, labelFlush=False, labelOverlap=False,
                      title="\u2212 log\u2081\u2080(p)", titleFont=AXIS_FONT, titleFontSize=8.5,
                      titleFontWeight="normal", titleColor="#777777",
                      titleX=ytitle_xy[0], titleY=ytitle_xy[1], titleAngle=270,
                      titleBaseline="middle", titleAlign="center")

    band_layer = alt.Chart(pd.DataFrame(band_rows)).mark_area(interpolate="linear").encode(
        x=alt.X("pos:Q", scale=xs, axis=x_axis),
        y=alt.Y("logp:Q", scale=ys, axis=y_axis, stack=None),
        color=color, detail="chrom:N")
    dots = alt.Chart(pd.DataFrame(dot_rows)).mark_circle(size=9, opacity=1).encode(
        x="pos:Q", y="logp:Q", color=color)

    # R-style axis lines: x from first to last chromosome tick, y from 0 to the top tick
    x_line = alt.Chart(pd.DataFrame({"pos": [MIDS[0]], "pos2": [MIDS[-1]]})).mark_rule(
        color=AXIS_GREY, strokeWidth=1).encode(x="pos:Q", x2="pos2:Q", y=alt.value(height + 2))
    y_line = alt.Chart(pd.DataFrame({"logp": [0], "logp2": [ymax]})).mark_rule(
        color=AXIS_GREY, strokeWidth=1).encode(x=alt.value(-yaxis_off), y="logp:Q", y2="logp2:Q")

    text_rows = []
    layers = [band_layer, dots, x_line, y_line]
    for nt, (hp, hv) in zip(notes, hits):
        text_rows.append({"pos": nt["tx"], "logp": nt["ty"][0], "txt": nt["snp"]})
        text_rows.append({"pos": nt["tx"], "logp": nt["ty"][1], "txt": "P-value = " + nt["p"]})
        layers.append(
            alt.Chart(pd.DataFrame([{"pos": nt["lx"], "logp": nt["ly"], "pos2": hp, "logp2": hv}]))
            .mark_rule(color="#000000", strokeWidth=1.6, x2Offset=nt["dx"], y2Offset=nt["dy"])
            .encode(x="pos:Q", y="logp:Q", x2="pos2:Q", y2="logp2:Q"))
    layers.append(alt.Chart(pd.DataFrame(text_rows)).mark_text(
        font=NOTE_FONT, fontSize=11.3, align="center", baseline="middle", color="#222222").encode(
        x="pos:Q", y="logp:Q", text="txt:N"))
    layers.append(panel_label(label, *label_xy))
    if anchor:
        layers.append(alt.Chart(pd.DataFrame({"k": [0]})).mark_rect(color="#ffffff").encode(
            x=alt.value(-55), x2=alt.value(-54), y=alt.value(-81.7), y2=alt.value(-80.7)))
    return alt.layer(*layers).properties(width=PANEL_W, height=height)


def qq(curves, title, label, label_xy, box_off, legend_x):
    rows = []
    for name, pts in zip(SERIES, curves):
        for i, (e, o) in enumerate(pts):
            rows.append({"series": name, "expected": e, "observed": o, "idx": i})
    df = pd.DataFrame(rows)
    px_x = QQ_BOX_W / (QQ_HI - QQ_LO)
    px_y = QQ_BOX_H / (QQ_HI - QQ_LO)
    x_lo = QQ_LO - box_off / px_x
    xs = alt.Scale(domain=[x_lo, x_lo + PANEL_W / px_x], nice=False, zero=False)
    ys = alt.Scale(domain=[QQ_LO, QQ_LO + ROW3_H / px_y], nice=False, zero=False)
    x_axis = alt.Axis(values=QQ_TICKS, tickCount=20, format="d", domain=False, grid=False,
                      tickSize=5, tickColor=AXIS_GREY, labelColor="#333333", labelFont=AXIS_FONT,
                      labelFontSize=11.5, labelPadding=7, labelFlush=False,
                      title="expected", titleFont=AXIS_FONT, titleFontSize=11.5,
                      titleFontWeight="normal", titleColor="#444444",
                      titleX=box_off + QQ_BOX_W / 2, titleY=47, titleBaseline="middle",
                      titleAlign="center")
    y_axis = alt.Axis(values=QQ_TICKS, tickCount=20, format="d", domain=False, grid=False,
                      offset=-box_off, tickSize=5, tickColor=AXIS_GREY, labelColor="#333333",
                      labelFont=AXIS_FONT, labelFontSize=11.5, labelPadding=7, labelFlush=False,
                      labelAngle=270, labelAlign="center", labelBaseline="bottom",
                      title="observed", titleFont=AXIS_FONT, titleFontSize=11.5,
                      titleFontWeight="normal", titleColor="#444444",
                      titleX=-44, titleY=ROW3_H - QQ_BOX_H / 2, titleAngle=270,
                      titleBaseline="middle", titleAlign="center")
    legend = alt.Legend(orient="none", legendX=legend_x, legendY=180, title=None,
                        symbolType="circle", symbolSize=5, symbolStrokeWidth=2.6,
                        labelFont=AXIS_FONT, labelFontSize=10, labelColor="#333333",
                        strokeColor=AXIS_GREY, fillColor="#ffffff", padding=6,
                        rowPadding=2, clipHeight=10, labelOffset=5, labelLimit=200)
    color = alt.Color("series:N", scale=alt.Scale(domain=SERIES, range=SERIES_COLORS),
                      legend=legend)
    box = alt.Chart(pd.DataFrame([{"expected": QQ_LO, "expected2": QQ_HI,
                                   "observed": QQ_LO, "observed2": QQ_HI}])).mark_rect(
        filled=False, color=AXIS_GREY, strokeWidth=1).encode(
        x=alt.X("expected:Q", scale=xs, axis=x_axis), x2="expected2:Q",
        y=alt.Y("observed:Q", scale=ys, axis=y_axis), y2="observed2:Q")
    fitted = alt.Chart(df[df.series != "expectation"]).mark_line(strokeWidth=1.2).encode(
        x="expected:Q", y="observed:Q", color=color, order="idx:Q")
    expect = alt.Chart(df[df.series == "expectation"]).mark_line(
        strokeWidth=1, color="#555555").encode(x="expected:Q", y="observed:Q", order="idx:Q")
    head = alt.Chart(pd.DataFrame({"expected": [(QQ_LO + QQ_HI) / 2]})).mark_text(
        text=title, font=AXIS_FONT, fontSize=13.5, fontWeight="bold", color="#222222",
        baseline="middle").encode(x="expected:Q", y=alt.value(1))
    return alt.layer(box, fitted, expect, head, panel_label(label, *label_xy)).properties(
        width=PANEL_W, height=ROW3_H)


panel_a = manhattan(A_BAND, A_SNPS + A_SPARSE, A_NOTES, 6, ROW1_H,
                    "Mean Temperature Wettest Quarter K-matrix", "A)", (-37, -39.7), anchor=True)
panel_d = manhattan(D_BAND, D_SNPS + D_SPARSE, D_NOTES, 6, ROW1_H,
                    "Mean Annual Temperature K-matrix", "D)", (14.5, -41.7),
                    yaxis_off=5, ytitle_xy=(-42, 95))
panel_b = manhattan(B_BAND, B_SNPS + B_SPARSE, B_NOTES, 7, ROW2_H,
                    "Mean Temperature Wettest Quarter K and Q-matrix", "B)", (-35.3, -29),
                    ytitle_xy=(-39, 88))
panel_e = manhattan(E_BAND, E_SNPS + E_SPARSE, E_NOTES, 6, ROW2_H,
                    "Mean Annual Temperature K and Q-matrix", "E)", (14.5, -17),
                    ytitle_xy=(-40, 88))
panel_c = qq([C_EXPECTATION, C_GLM, C_GLM_LAT, C_GLM_Q, C_MLM_K, C_MLM_K_LAT, C_MLM_K_LAT_LON, C_MLM_KQ],
             "QQ-plot for Mean Temperature in the Wettest Quarter", "C)", (-30, 30.3), 107, 288)
panel_f = qq([F_EXPECTATION, F_GLM, F_GLM_LAT, F_GLM_Q, F_MLM_K, F_MLM_K_LAT, F_MLM_K_LAT_LON, F_MLM_KQ],
             "QQ-plot for P Mean Annual Tempurature", "F)", (14.6, 30.3), 81, 262)

chart = alt.concat(
    panel_a, panel_d, panel_b, panel_e, panel_c, panel_f,
    columns=2, spacing={"row": 105.7, "column": 75}, bounds="flush", align="each",
).resolve_scale(
    x="independent", y="independent", color="independent"
).properties(
    padding=0, background="#ffffff"
).configure_view(stroke=None)

chart.save("out.html", embed_options={"renderer": "svg", "actions": False})
